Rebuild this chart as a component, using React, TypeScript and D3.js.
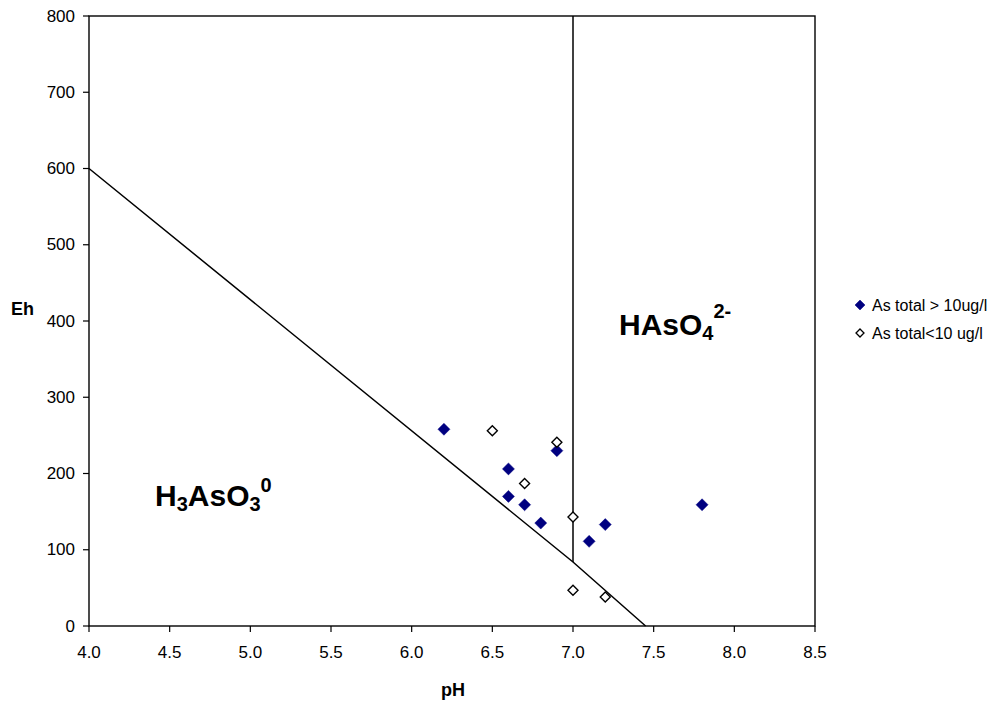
import React from "react";
import * as d3 from "d3";

const xTicks = [4.0, 4.5, 5.0, 5.5, 6.0, 6.5, 7.0, 7.5, 8.0, 8.5];
const yTicks = [0, 100, 200, 300, 400, 500, 600, 700, 800];

// As total > 10 ug/l
const highPH = [6.2, 6.9, 6.6, 6.6, 6.7, 6.8, 7.2, 7.1, 7.8];
const highEh = [258, 230, 206, 170, 159, 135, 133, 111, 159];

// As total < 10 ug/l
const lowPH = [6.5, 6.9, 6.7, 7.0, 7.0, 7.2];
const lowEh = [256, 241, 187, 143, 47, 38];

// boundary lines
const diagPH = [4.0, 7.0, 7.45];
const diagEh = [600, 84, 0];
const vertPH = [7.0, 7.0];
const vertEh = [84, 800];

const legendLabels = ["As total > 10ug/l", "As total<10 ug/l"];

const FONT = "'Liberation Sans', Arial, Helvetica, sans-serif";

export default function App() {
  const W = 1001;
  const H = 704;
  const x = d3.scaleLinear().domain([4, 8.5]).range([89, 815]);
  const y = d3.scaleLinear().domain([0, 800]).range([626, 16]);

  const line = d3
    .line<[number, number]>()
    .x((d) => x(d[0]))
    .y((d) => y(d[1]));

  const diag: [number, number][] = diagPH.map((p, i) => [p, diagEh[i]]);
  const vert: [number, number][] = vertPH.map((p, i) => [p, vertEh[i]]);

  const diamond = (cx: number, cy: number, r: number) =>
    `M${cx},${cy - r}L${cx + r},${cy}L${cx},${cy + r}L${cx - r},${cy}Z`;

  return (
    <svg
      width={W}
      height={H}
      style={{ position: "absolute", left: 0, top: 0, background: "#fff" }}
      fontFamily={FONT}
    >
      <rect x={0} y={0} width={W} height={H} fill="#fff" />
      {/* plot frame */}
      <rect
        x={x(4)}
        y={y(800)}
        width={x(8.5) - x(4)}
        height={y(0) - y(800)}
        fill="none"
        stroke="#000"
        strokeWidth={1.4}
      />
      {/* y ticks */}
      {yTicks.map((t) => (
        <g key={"y" + t}>
          <line x1={x(4) - 6} x2={x(4)} y1={y(t)} y2={y(t)} stroke="#000" strokeWidth={1.2} />
          <text
            x={75}
            y={y(t)}
            textAnchor="end"
            dominantBaseline="central"
            fontSize={17}
            fill="#000"
          >
            {t}
          </text>
        </g>
      ))}
      {/* x ticks */}
      {xTicks.map((t) => (
        <g key={"x" + t}>
          <line x1={x(t)} x2={x(t)} y1={y(0)} y2={y(0) + 6} stroke="#000" strokeWidth={1.2} />
          <text x={x(t)} y={658} textAnchor="middle" fontSize={17} fill="#000">
            {t.toFixed(1)}
          </text>
        </g>
      ))}
      {/* axis titles */}
      <text x={11} y={315} fontSize={18} fontWeight="bold" fill="#000">
        Eh
      </text>
      <text x={453} y={696} textAnchor="middle" fontSize={18} fontWeight="bold" fill="#000">
        pH
      </text>

      {/* boundary lines */}
      <path d={line(diag) || ""} fill="none" stroke="#000" strokeWidth={1.5} />
      <path d={line(vert) || ""} fill="none" stroke="#000" strokeWidth={1.5} />

      {/* field labels */}
      <text x={155} y={506} fontSize={30} fontWeight="bold" fill="#000">
        <tspan>H</tspan>
        <tspan fontSize={20} dy={5}>3</tspan>
        <tspan dy={-5}>AsO</tspan>
        <tspan fontSize={20} dy={5}>3</tspan>
        <tspan fontSize={20} dy={-19}>0</tspan>
      </text>
      <text x={619} y={335} fontSize={30} fontWeight="bold" fill="#000">
        <tspan>HAsO</tspan>
        <tspan fontSize={20} dy={5}>4</tspan>
        <tspan fontSize={20} dy={-22}>2-</tspan>
      </text>

      {/* data points */}
      {highPH.map((p, i) => (
        <path key={"h" + i} d={diamond(x(p), y(highEh[i]), 6)} fill="#000080" stroke="#000080" strokeWidth={0.5} />
      ))}
      {lowPH.map((p, i) => (
        <path key={"l" + i} d={diamond(x(p), y(lowEh[i]), 5)} fill="#fff" stroke="#000" strokeWidth={1.4} />
      ))}

      {/* legend */}
      <path d={diamond(860, 305, 5)} fill="#000080" stroke="#000080" strokeWidth={0.5} />
      <text x={872} y={305} dominantBaseline="central" fontSize={16} fill="#000">
        {legendLabels[0]}
      </text>
      <path d={diamond(860, 333, 4)} fill="#fff" stroke="#000" strokeWidth={1.3} />
      <text x={872} y={333} dominantBaseline="central" fontSize={16} fill="#000">
        {legendLabels[1]}
      </text>
    </svg>
  );
}
